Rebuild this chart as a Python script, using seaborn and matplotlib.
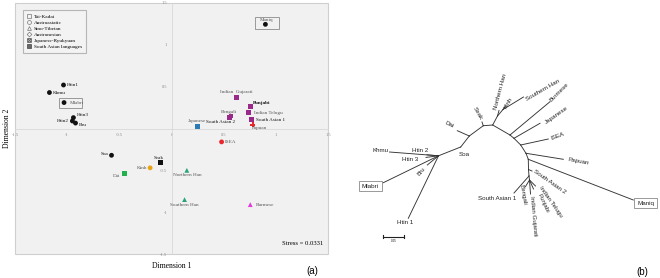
import numpy as np
import pandas as pd
import seaborn as sns
import matplotlib.pyplot as plt
from matplotlib.lines import Line2D
from matplotlib.patches import Rectangle

# ---------------- (a) MDS data ----------------
names = ["Htin1", "Khmu", "Mlabri", "Htin3", "Htin2", "Bru", "Maniq",
         "Indian  Gujarati", "Punjabi", "Indian Telugu", "Bengali", "South Asian 2",
         "South Asian 1", "Papuan", "Japanese", "ISEA", "Soa", "Seak", "Kinh", "Dai",
         "Northern Han", "Southern Han", "Burmese"]
dim1 = [-1.035, -1.17, -1.03, -0.94, -0.95, -0.92, 0.90,
        0.62, 0.755, 0.74, 0.57, 0.556,
        0.77, 0.78, 0.246, 0.48, -0.575, -0.105, -0.205, -0.45,
        0.147, 0.125, 0.755]
dim2 = [0.52, 0.43, 0.31, 0.13, 0.09, 0.065, 1.245,
        0.37, 0.26, 0.19, 0.15, 0.135,
        0.105, 0.045, 0.028, -0.16, -0.32, -0.41, -0.47, -0.54,
        -0.50, -0.85, -0.91]
family = ["Austroasiatic"] * 7 + ["South Asian languages"] * 6 + \
         ["Papuan", "Japanese-Ryukyuan", "Austronesian", "Austroasiatic", "Tai-Kadai",
          "Austroasiatic", "Tai-Kadai", "Sino-Tibetan", "Sino-Tibetan", "Sino-Tibetan"]
colors = ["#111111"] * 7 + ["#9a2a8a"] * 6 + \
         ["#e8262b", "#2a7ab5", "#e8262b", "#111111", "#111111", "#e8a317", "#21b24b",
          "#2aa37a", "#2aa37a", "#e03ae0"]
stress = 0.0331

legend_names = ["Tai-Kadai", "Austroasiatic", "Sino-Tibetan", "Austronesian",
                "Japanese-Ryukyuan", "South Asian languages"]

df = pd.DataFrame({"name": names, "d1": dim1, "d2": dim2, "family": family})

# label placement: (dx, dy in data units, ha, va)
lab = {
    "Htin1": (0.03, 0, "left", "center"), "Khmu": (0.03, 0, "left", "center"),
    "Mlabri": (0.06, 0, "left", "center"), "Htin3": (0.03, 0.035, "left", "center"),
    "Htin2": (-0.03, -0.005, "right", "center"), "Bru": (0.03, -0.02, "left", "center"),
    "Maniq": (0.01, 0.05, "center", "center"), "Indian  Gujarati": (0.0, 0.07, "center", "center"),
    "Punjabi": (0.025, 0.045, "left", "center"), "Indian Telugu": (0.05, 0.0, "left", "center"),
    "Bengali": (-0.02, 0.05, "center", "center"), "South Asian 2": (-0.09, -0.06, "center", "center"),
    "South Asian 1": (0.04, 0.0, "left", "center"), "Papuan": (-0.01, -0.045, "left", "center"),
    "Japanese": (0.0, 0.06, "center", "center"), "ISEA": (0.03, 0.0, "left", "center"),
    "Soa": (-0.03, 0.01, "right", "center"), "Seak": (-0.02, 0.06, "center", "center"),
    "Kinh": (-0.03, -0.005, "right", "center"), "Dai": (-0.04, -0.03, "right", "center"),
    "Northern Han": (0.0, -0.055, "center", "center"),
    "Southern Han": (0.0, -0.06, "center", "center"), "Burmese": (0.05, 0.0, "left", "center"),
}
dark_labels = ["Htin1", "Khmu", "Htin3", "Htin2", "Bru", "Punjabi", "South Asian 2",
               "South Asian 1", "Soa", "Seak"]

markers = {"Austroasiatic": "o", "South Asian languages": "s", "Papuan": "P",
           "Japanese-Ryukyuan": "s", "Austronesian": "o", "Tai-Kadai": "s",
           "Sino-Tibetan": "^"}

fig = plt.figure(figsize=(6.6, 2.78), dpi=100)
serif = "Liberation Serif"

ax = fig.add_axes([15 / 660, 1 - 254 / 278, 313 / 660, 251 / 278])
ax.set_facecolor("#f1f1f1")
sns.scatterplot(data=df, x="d1", y="d2", hue="name", palette=dict(zip(names, colors)),
                style="family", markers=markers, s=12, linewidth=0, legend=False, ax=ax)
ax.set_xlim(-1.5, 1.5)
ax.set_ylim(-1.5, 1.5)
for side in ["left", "bottom"]:
    ax.spines[side].set_position(("data", 0))
    ax.spines[side].set_color("#d8d8d8")
    ax.spines[side].set_linewidth(0.6)
for side in ["top", "right"]:
    ax.spines[side].set_visible(False)
ax.add_patch(Rectangle((0, 0), 1, 1, transform=ax.transAxes, fill=False,
                       edgecolor="#cfcfcf", lw=0.8, clip_on=False))
ticks = [-1.5, -1, -0.5, 0, 0.5, 1, 1.5]
ax.set_xticks(ticks)
ax.set_xticklabels(["-1.5", "-1", "-0.5", "0", "0.5", "1", "1.5"])
ax.set_yticks([t for t in ticks if t != 0])
ax.set_yticklabels(["-1.5", "-1", "-0.5", "0.5", "1", "1.5"])
ax.tick_params(length=0, labelsize=3.2, colors="#888888", pad=3)
for t in ax.get_xticklabels() + ax.get_yticklabels():
    t.set_fontfamily(serif)
ax.set_xlabel("")
ax.set_ylabel("")

for n, x, y in zip(names, dim1, dim2):
    dx, dy, ha, va = lab[n]
    ax.text(x + dx, y + dy, n, fontsize=3.7, family=serif, ha=ha, va=va,
            color="#111111" if n in dark_labels else "#555555",
            fontweight="bold" if n == "Punjabi" else "normal")

# boxed samples
i = names.index("Mlabri")
ax.add_patch(Rectangle((dim1[i] - 0.045, dim2[i] - 0.06), 0.215, 0.118, fill=False,
                       edgecolor="#999999", lw=0.7))
i = names.index("Maniq")
ax.add_patch(Rectangle((dim1[i] - 0.10, dim2[i] - 0.055), 0.235, 0.145, fill=False,
                       edgecolor="#999999", lw=0.7))

handles = [
    Line2D([], [], ls="", marker="s", mfc="none", mec="#777777", ms=2.6, mew=0.5),
    Line2D([], [], ls="", marker="o", mfc="none", mec="#777777", ms=2.8, mew=0.5),
    Line2D([], [], ls="", marker="^", mfc="none", mec="#777777", ms=2.8, mew=0.5),
    Line2D([], [], ls="", marker="D", mfc="none", mec="#777777", ms=2.4, mew=0.5),
    Line2D([], [], ls="", marker=r"$\boxtimes$", color="#666666", ms=3.0, mew=0.3),
    Line2D([], [], ls="", marker="s", mfc="#666666", mec="#444444", ms=2.6, mew=0.5),
]
leg = ax.legend(handles, legend_names, loc="upper left", bbox_to_anchor=(0.026, 0.972),
                borderaxespad=0, prop={"family": serif, "size": 3.8}, frameon=True,
                fancybox=False, edgecolor="#a8a8a8", facecolor="#f4f4f4",
                handlelength=0.8, handletextpad=0.4, labelspacing=0.25, borderpad=0.8)
leg.get_frame().set_linewidth(0.8)
ax.text(0.985, 0.03, f"Stress = {stress}", transform=ax.transAxes, ha="right",
        va="bottom", fontsize=4.8, family=serif)
fig.text(172 / 660, 1 - 266 / 278, "Dimension 1", ha="center", va="center",
         fontsize=5.5, family=serif)
fig.text(7 / 660, 1 - 128 / 278, "Dimension 2", ha="center", va="center",
         rotation=90, fontsize=5.5, family=serif)
fig.text(312 / 660, 1 - 271 / 278, "(a)", ha="center", va="center", fontsize=7,
         family="Liberation Sans")

# ---------------- (b) tree ----------------
node_names = ["aa", "Khmu", "Htin 2", "Htin 3", "Bru", "Mlabri", "Htin 1", "Soa",
              "dai_n", "Dai", "seak_n", "Seak", "c", "e", "Northern Han", "f", "Kinh",
              "Southern Han", "d", "Burmese", "g", "Japanese", "h", "ISEA", "i", "Papuan",
              "j", "Maniq", "k1", "South Asian 2", "k", "South Asian 1", "sa_n", "Bengali",
              "Indian Gujarati", "Punjabi", "Indian Telugu"]
node_x = [438.5, 389.5, 427.0, 426.0, 427.3, 383.3, 408.3, 460.7,
          469.3, 457.3, 483.3, 482.0, 492.7, 497.5, 499.0, 503.0, 505.5,
          523.5, 510.0, 550.0, 514.0, 540.0, 520.7, 548.3, 526.0, 563.3,
          528.3, 633.3, 528.5, 532.0, 529.0, 514.0, 529.5, 525.5,
          530.5, 533.5, 535.5]
node_y = [155.8, 152.0, 154.8, 157.4, 165.0, 182.7, 218.3, 147.0,
          136.0, 130.7, 125.7, 122.0, 125.0, 116.0, 110.5, 109.5, 106.0,
          97.0, 135.0, 101.7, 138.3, 123.3, 145.0, 139.0, 153.3, 159.3,
          159.3, 200.0, 169.5, 171.0, 176.0, 193.0, 180.0, 186.5,
          194.0, 189.0, 186.0]
edges = [("aa", "Khmu"), ("aa", "Htin 2"), ("aa", "Htin 3"), ("aa", "Bru"),
         ("aa", "Mlabri"), ("aa", "Htin 1"), ("aa", "Soa"), ("Soa", "dai_n"),
         ("dai_n", "Dai"), ("dai_n", "seak_n"), ("seak_n", "Seak"), ("seak_n", "c"),
         ("c", "e"), ("e", "Northern Han"), ("e", "f"), ("f", "Kinh"), ("f", "Southern Han"),
         ("c", "d"), ("d", "Burmese"), ("d", "g"), ("g", "Japanese"), ("g", "h"),
         ("h", "ISEA"), ("h", "i"), ("i", "Papuan"), ("i", "j"), ("j", "Maniq"),
         ("j", "k1"), ("k1", "South Asian 2"), ("k1", "k"), ("k", "South Asian 1"),
         ("k", "sa_n"), ("sa_n", "Bengali"), ("sa_n", "Indian Gujarati"),
         ("sa_n", "Punjabi"), ("sa_n", "Indian Telugu")]
scale_len = 0.05

pos = {n: (x, y) for n, x, y in zip(node_names, node_x, node_y)}
rows = []
for k, (a, b) in enumerate(edges):
    rows.append({"edge": k, "x": pos[a][0], "y": pos[a][1], "o": 0})
    rows.append({"edge": k, "x": pos[b][0], "y": pos[b][1], "o": 1})
edf = pd.DataFrame(rows)

ax2 = fig.add_axes([340 / 660, 0, 320 / 660, 1])
sns.lineplot(data=edf, x="x", y="y", units="edge", estimator=None, sort=False,
             color="#333333", lw=0.65, ax=ax2)
ax2.set_xlim(340, 660)
ax2.set_ylim(278, 0)
ax2.axis("off")

sans = "Liberation Sans"
# (x, y, rotation) of each tip label in layout units
tip_lab = {
    "Khmu": (380.5, 150.7, 0), "Htin 2": (420, 150.6, 0), "Htin 3": (410, 159.3, 0),
    "Bru": (421, 171.7, 50), "Htin 1": (405, 223, 0), "Soa": (464, 155, 0),
    "Dai": (449, 125, -25), "Seak": (478, 113, -60), "Northern Han": (500, 92, 75),
    "Kinh": (508.5, 103, 60), "Southern Han": (543, 90, 30), "Burmese": (559, 92, 45),
    "Japanese": (557, 115, 35), "ISEA": (557, 136, 20), "Papuan": (578, 161, -10),
    "South Asian 2": (550, 182, -35), "South Asian 1": (497, 199, 0),
    "Bengali": (523, 195, -80), "Indian Gujarati": (533.5, 216, -85),
    "Punjabi": (543, 203, -65), "Indian Telugu": (550.5, 202, -55),
}
for n, (x, y, r) in tip_lab.items():
    ax2.text(x, y, n, ha="center", va="center", rotation=r, fontsize=4.5,
             family=sans, color="#222222", rotation_mode="anchor")
for n, (x, y) in {"Mlabri": (370.5, 186), "Maniq": (645.5, 203)}.items():
    ax2.text(x, y, n, ha="center", va="center", fontsize=4.5, family=sans,
             color="#222222",
             bbox=dict(boxstyle="square,pad=0.45", fc="white", ec="#999999", lw=0.7))

# scale bar, 0.05 = 21.3 layout units
px_per_unit = 21.3 / 0.05
sb_x0, sb_y = 383, 236.7
ax2.plot([sb_x0, sb_x0 + scale_len * px_per_unit], [sb_y, sb_y], color="#222222", lw=0.8)
for xx in (sb_x0, sb_x0 + scale_len * px_per_unit):
    ax2.plot([xx, xx], [sb_y - 1.5, sb_y + 1.5], color="#222222", lw=0.8)
ax2.text(sb_x0 + scale_len * px_per_unit / 2, sb_y + 4, f"{scale_len:.2f}", ha="center",
         va="center", fontsize=2.2, family=sans)
ax2.text(642, 272, "(b)", ha="center", va="center", fontsize=7, family=sans)

fig.savefig("out.png", dpi=100)
